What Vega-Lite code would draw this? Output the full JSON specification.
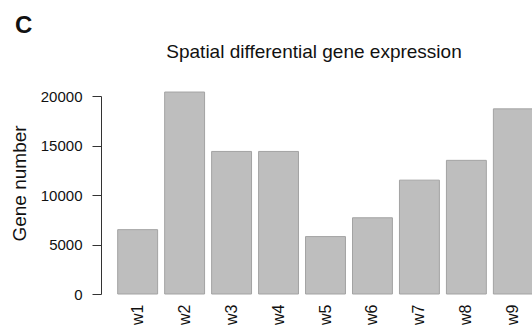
{
  "$schema": "https://vega.github.io/schema/vega-lite/v6.json",
  "background": "white",
  "padding": {"left": 9, "top": 14, "right": 0, "bottom": 0},
  "title": {
    "text": "C",
    "anchor": "start",
    "frame": "bounds",
    "font": "Liberation Sans",
    "fontSize": 24,
    "fontWeight": "bold",
    "color": "#111111",
    "offset": 5,
    "dx": 5
  },
  "config": {
    "view": {"stroke": null},
    "font": "Liberation Sans"
  },
  "vconcat": [
    {
      "width": 422,
      "height": 198,
      "title": {
        "text": "Spatial differential gene expression",
        "font": "Liberation Sans",
        "fontSize": 19,
        "fontWeight": "normal",
        "color": "#111111",
        "baseline": "alphabetic",
        "offset": 12,
        "dx": -8
      },
      "data": {
        "values": [
          {"sample": "w1", "genes": 6500},
          {"sample": "w2", "genes": 20400},
          {"sample": "w3", "genes": 14400},
          {"sample": "w4", "genes": 14400},
          {"sample": "w5", "genes": 5800},
          {"sample": "w6", "genes": 7700},
          {"sample": "w7", "genes": 11500},
          {"sample": "w8", "genes": 13500},
          {"sample": "w9", "genes": 18700}
        ]
      },
      "mark": {
        "type": "bar",
        "fill": "#bebebe",
        "stroke": "#a3a3a3",
        "strokeWidth": 1
      },
      "encoding": {
        "x": {
          "field": "sample",
          "type": "nominal",
          "sort": null,
          "scale": {"range": [6.7, 422.3], "paddingInner": 0.15, "paddingOuter": 0},
          "axis": {
            "title": null,
            "domain": false,
            "ticks": false,
            "labelAngle": -90,
            "labelAlign": "right",
            "labelBaseline": "middle",
            "labelPadding": 10,
            "labelFont": "Liberation Sans",
            "labelFontSize": 16,
            "labelColor": "#111111"
          }
        },
        "y": {
          "field": "genes",
          "type": "quantitative",
          "scale": {"domain": [0, 20000], "nice": false},
          "axis": {
            "title": "Gene number",
            "values": [0, 5000, 10000, 15000, 20000],
            "format": "d",
            "offset": 10,
            "grid": false,
            "domainColor": "#333333",
            "domainWidth": 1,
            "tickColor": "#333333",
            "tickSize": 9,
            "tickWidth": 1,
            "labelPadding": 10,
            "labelFont": "Liberation Sans",
            "labelFontSize": 15,
            "labelColor": "#111111",
            "titleFont": "Liberation Sans",
            "titleFontSize": 19,
            "titleFontWeight": "normal",
            "titleColor": "#111111",
            "titleBaseline": "alphabetic",
            "titleX": -76,
            "titleY": 87
          }
        }
      }
    }
  ]
}
